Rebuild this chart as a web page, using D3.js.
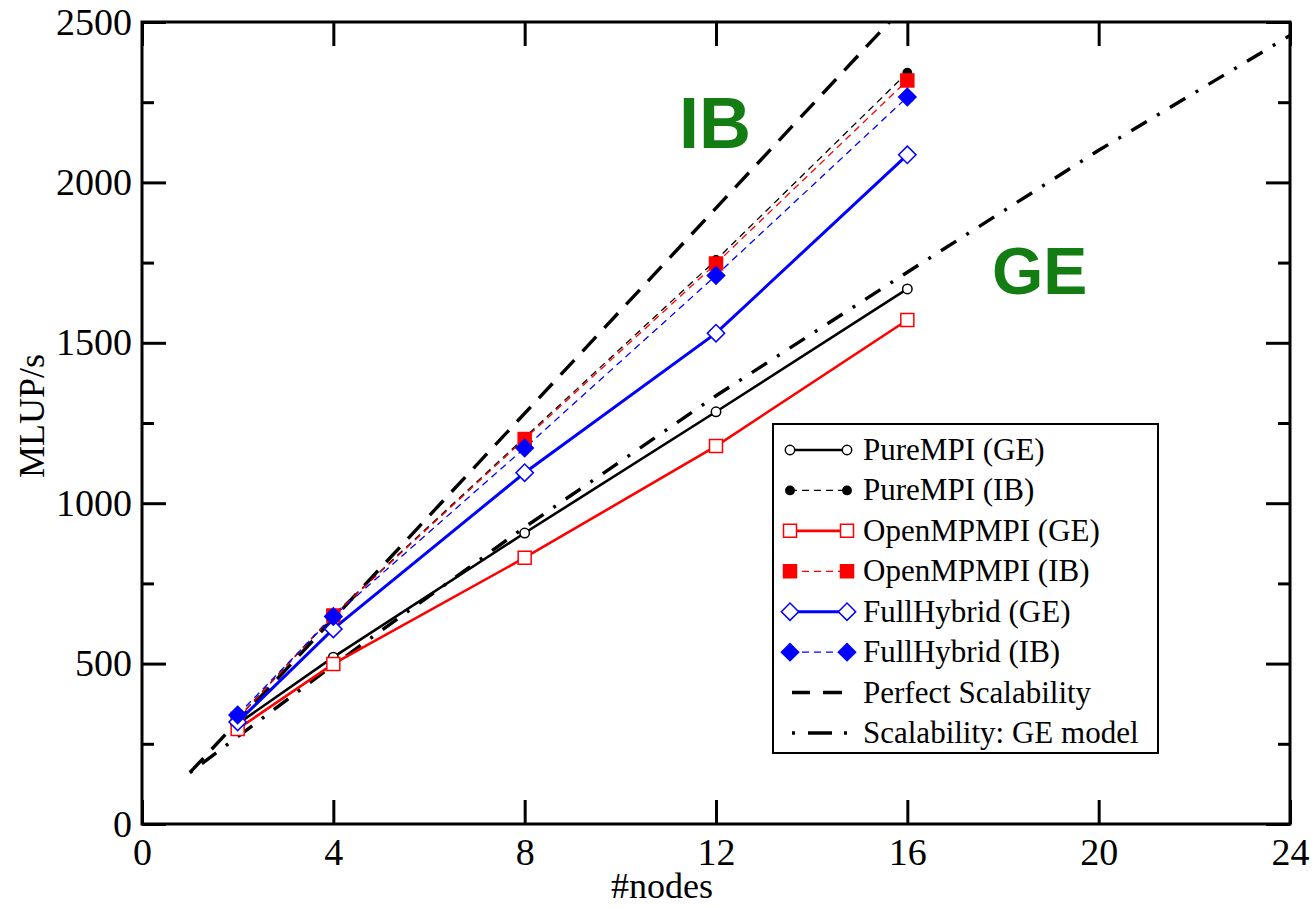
<!DOCTYPE html>
<html>
<head>
<meta charset="utf-8">
<script src="https://cdn.jsdelivr.net/npm/d3@7"></script>
<style>
  body { margin: 0; background: #fff; }
  svg { display: block; }
  text { font-family: "Liberation Serif", "Times New Roman", serif; }
</style>
</head>
<body>
<svg id="chart" width="1312" height="909"></svg>
<script>
// measured nodes
const nodes = [2, 4, 8, 12, 16];
const pureMpiGE = [312, 520, 907, 1285, 1668];
const pureMpiIB = [330, 652, 1205, 1758, 2342];
const openMpGE = [296, 499, 830, 1178, 1571];
const openMpIB = [328, 650, 1200, 1747, 2318];
const hybridGE = [318, 608, 1095, 1530, 2086];
const hybridIB = [340, 647, 1172, 1710, 2266];

// reference curves
const perfectNodes = [1, 16];
const perfectVals = [160, 2560];
const modelNodes = [1, 2, 4, 8, 12, 16, 20, 24];
const modelVals = [160, 272, 495, 925, 1335, 1720, 2100, 2458];

const xTicks = [0, 4, 8, 12, 16, 20, 24];
const yTicks = [0, 500, 1000, 1500, 2000, 2500];
const yMinor = [250, 750, 1250, 1750, 2250];

const svg = d3.select('#chart');
const plotL = 142, plotR = 1290, plotT = 22, plotB = 824;

const x = d3.scaleLinear().domain([0, 24]).range([plotL, plotR]);
const y = d3.scaleLinear().domain([0, 2500]).range([plotB, plotT]);

svg.append('clipPath').attr('id', 'plot')
  .append('rect')
  .attr('x', plotL).attr('y', plotT)
  .attr('width', plotR - plotL).attr('height', plotB - plotT);

// axes, ticks pointing inward on all four sides
const major = 24, minor = 12;
const fmt = d3.format('d');
svg.append('g').attr('transform', `translate(0,${plotB})`)
  .call(d3.axisBottom(x).tickValues(xTicks).tickFormat(fmt).tickSizeInner(-major).tickSizeOuter(0).tickPadding(14))
  .call(g => g.select('.domain').remove());
svg.append('g').attr('transform', `translate(0,${plotT})`)
  .call(d3.axisTop(x).tickValues(xTicks).tickSizeInner(-major).tickSizeOuter(0).tickFormat(''))
  .call(g => g.select('.domain').remove());
svg.append('g').attr('transform', `translate(${plotL},0)`)
  .call(d3.axisLeft(y).tickValues(yTicks).tickFormat(fmt).tickSizeInner(-major).tickSizeOuter(0).tickPadding(10))
  .call(g => g.select('.domain').remove());
svg.append('g').attr('transform', `translate(${plotL},0)`)
  .call(d3.axisLeft(y).tickValues(yMinor).tickSizeInner(-minor).tickSizeOuter(0).tickFormat(''))
  .call(g => g.select('.domain').remove());
svg.append('g').attr('transform', `translate(${plotR},0)`)
  .call(d3.axisRight(y).tickValues(yTicks).tickSizeInner(-major).tickSizeOuter(0).tickFormat(''))
  .call(g => g.select('.domain').remove());
svg.append('g').attr('transform', `translate(${plotR},0)`)
  .call(d3.axisRight(y).tickValues(yMinor).tickSizeInner(-minor).tickSizeOuter(0).tickFormat(''))
  .call(g => g.select('.domain').remove());

svg.selectAll('.tick line').attr('stroke', '#000').attr('stroke-width', 3);
svg.selectAll('.tick text')
  .style('font-family', '"Liberation Serif", serif')
  .style('font-size', '38px').style('fill', '#000');

svg.append('rect')
  .attr('x', plotL).attr('y', plotT)
  .attr('width', plotR - plotL).attr('height', plotB - plotT)
  .attr('fill', 'none').attr('stroke', '#000').attr('stroke-width', 3);

svg.append('text')
  .attr('x', 662).attr('y', 898)
  .attr('text-anchor', 'middle')
  .style('font-size', '36px')
  .text('#nodes');
svg.append('text')
  .attr('transform', 'translate(44,416) rotate(-90)')
  .attr('text-anchor', 'middle')
  .style('font-size', '36px')
  .text('MLUP/s');

const series = [
  {name: 'PureMPI (GE)', vals: pureMpiGE, color: '#000', width: 2.6, dash: null, sym: 'circle', fill: '#fff', size: 70},
  {name: 'PureMPI (IB)', vals: pureMpiIB, color: '#000', width: 1.3, dash: '7,5', sym: 'circle', fill: '#000', size: 55},
  {name: 'OpenMPMPI (GE)', vals: openMpGE, color: '#ff0000', width: 2.6, dash: null, sym: 'square', fill: '#fff', size: 169},
  {name: 'OpenMPMPI (IB)', vals: openMpIB, color: '#ff0000', width: 1.3, dash: '7,5', sym: 'square', fill: '#ff0000', size: 169},
  {name: 'FullHybrid (GE)', vals: hybridGE, color: '#0000ff', width: 3, dash: null, sym: 'diamond', fill: '#fff', size: 150},
  {name: 'FullHybrid (IB)', vals: hybridIB, color: '#0000ff', width: 1.3, dash: '7,5', sym: 'diamond', fill: '#0000ff', size: 150}
];

function symbolPath(s) {
  const type = s.sym === 'circle' ? d3.symbolCircle : d3.symbolSquare;
  return d3.symbol().type(type).size(s.size)();
}
function markerTransform(s, px, py) {
  return `translate(${px},${py})` + (s.sym === 'diamond' ? ' rotate(45)' : '');
}

const line = d3.line().x(d => x(d[0])).y(d => y(d[1]));
const plot = svg.append('g').attr('clip-path', 'url(#plot)');

plot.append('path')
  .datum(d3.zip(perfectNodes, perfectVals))
  .attr('d', line).attr('fill', 'none')
  .attr('stroke', '#000').attr('stroke-width', 3.4)
  .attr('stroke-dasharray', '20,12');
plot.append('path')
  .datum(d3.zip(modelNodes, modelVals))
  .attr('d', line).attr('fill', 'none')
  .attr('stroke', '#000').attr('stroke-width', 3.4)
  .attr('stroke-dasharray', '3,12,18,12');

series.forEach(s => {
  const pts = d3.zip(nodes, s.vals);
  plot.append('path')
    .datum(pts).attr('d', line).attr('fill', 'none')
    .attr('stroke', s.color).attr('stroke-width', s.width)
    .attr('stroke-dasharray', s.dash);
});
series.forEach(s => {
  plot.selectAll(null)
    .data(d3.zip(nodes, s.vals))
    .enter().append('path')
    .attr('d', symbolPath(s))
    .attr('transform', d => markerTransform(s, x(d[0]), y(d[1])))
    .attr('fill', s.fill).attr('stroke', s.color).attr('stroke-width', 1.5);
});

// green annotations
svg.append('text').attr('x', 679).attr('y', 148)
  .style('font-family', '"Liberation Sans", Arial, sans-serif')
  .style('font-weight', 'bold').style('font-size', '72px')
  .style('fill', '#137d13').text('IB');
svg.append('text').attr('x', 992).attr('y', 294)
  .style('font-family', '"Liberation Sans", Arial, sans-serif')
  .style('font-weight', 'bold').style('font-size', '66px')
  .style('fill', '#137d13').text('GE');

// legend
const legend = svg.append('g');
legend.append('rect')
  .attr('x', 773).attr('y', 424).attr('width', 385).attr('height', 329)
  .attr('fill', '#fff').attr('stroke', '#000').attr('stroke-width', 2);

const legendItems = series.map(s => ({...s, kind: 'series'})).concat([
  {name: 'Perfect Scalability', color: '#000', dash: '18,13,19,40', kind: 'ref'},
  {name: 'Scalability: GE model', color: '#000', dash: '3,13,24,12,3,40', kind: 'ref'}
]);
const rowY = d3.scaleLinear().domain([0, 7]).range([450, 733]);
const lx0 = 790, lx1 = 847;

legendItems.forEach((s, i) => {
  const ry = rowY(i);
  const row = legend.append('g');
  row.append('line')
    .attr('x1', s.kind === 'ref' ? 792 : lx0).attr('x2', s.kind === 'ref' ? 852 : lx1)
    .attr('y1', ry).attr('y2', ry)
    .attr('stroke', s.color).attr('stroke-width', s.kind === 'ref' ? 3.4 : s.width)
    .attr('stroke-dasharray', s.dash);
  if (s.kind === 'series') {
    [lx0, lx1].forEach(px => {
      row.append('path')
        .attr('d', symbolPath(s))
        .attr('transform', markerTransform(s, px, ry))
        .attr('fill', s.fill).attr('stroke', s.color).attr('stroke-width', 1.5);
    });
  }
  row.append('text')
    .attr('x', 863).attr('y', ry + 10)
    .style('font-size', '31px').style('fill', '#000')
    .text(s.name);
});
</script>
</body>
</html>
